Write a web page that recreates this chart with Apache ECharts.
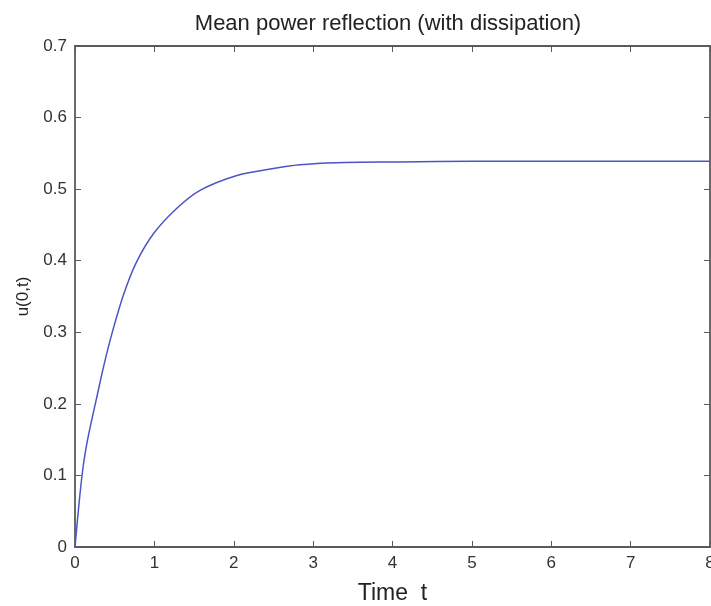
<!DOCTYPE html>
<html>
<head>
<meta charset="utf-8">
<script src="https://cdn.jsdelivr.net/npm/echarts@6/dist/echarts.min.js"></script>
<style>html,body{margin:0;padding:0;background:#fff;}#c{width:711px;height:606px;}</style>
</head>
<body>
<div id="c"></div>
<script>
var titleText = 'Mean power reflection (with dissipation)';
var xName = 'Time  t';
var yName = 'u(0,t)';
var timeT = [0, 0.05, 0.1, 0.15, 0.2, 0.27, 0.36, 0.46, 0.61, 0.77, 0.99, 1.28, 1.57, 2.04, 2.46, 2.83, 3.3, 4.1, 5, 6, 7, 8];
var u0t = [0, 0.06, 0.11, 0.145, 0.172, 0.207, 0.252, 0.296, 0.352, 0.397, 0.438, 0.473, 0.498, 0.519, 0.528, 0.534, 0.537, 0.538, 0.539, 0.539, 0.539, 0.539];

var font = 'Liberation Sans, Arial, sans-serif';
var axisCol = '#5a5a5a';
var chart = echarts.init(document.getElementById('c'), null, {renderer: 'canvas'});
var lineData = timeT.map(function (t, i) { return [t, u0t[i]]; });
chart.setOption({
  animation: false,
  backgroundColor: '#fff',
  title: {
    text: titleText, left: 383, top: 8, textAlign: 'center',
    textStyle: {fontFamily: font, fontSize: 22, fontWeight: 'normal', color: '#222'}
  },
  grid: {left: 75, right: 1, top: 46, bottom: 59, containLabel: false, outerBoundsMode: 'none'},
  xAxis: [{
    type: 'value', min: 0, max: 8, interval: 1, position: 'bottom',
    name: xName, nameLocation: 'middle', nameGap: 35,
    nameTextStyle: {fontFamily: font, fontSize: 23, color: '#222'},
    axisLine: {show: true, onZero: false, lineStyle: {color: axisCol, width: 1.8}},
    axisTick: {show: true, inside: true, length: 6, lineStyle: {color: axisCol}},
    axisLabel: {fontFamily: font, fontSize: 17, color: '#333', margin: 8, showMaxLabel: true},
    splitLine: {show: false}
  }, {
    type: 'value', min: 0, max: 8, interval: 1, position: 'top',
    axisLine: {show: true, onZero: false, lineStyle: {color: axisCol, width: 1.8}},
    axisTick: {show: true, inside: true, length: 6, lineStyle: {color: axisCol}},
    axisLabel: {show: false}, splitLine: {show: false}
  }],
  yAxis: [{
    type: 'value', min: 0, max: 0.7, interval: 0.1, position: 'left',
    name: yName, nameLocation: 'middle', nameGap: 43, nameRotate: 90,
    nameTextStyle: {fontFamily: font, fontSize: 17, color: '#222'},
    axisLine: {show: true, onZero: false, lineStyle: {color: axisCol, width: 1.8}},
    axisTick: {show: true, inside: true, length: 6, lineStyle: {color: axisCol}},
    axisLabel: {fontFamily: font, fontSize: 17, color: '#333', margin: 8,
      formatter: function (v) { return v === 0 ? '0' : v.toFixed(1); }},
    splitLine: {show: false}
  }, {
    type: 'value', min: 0, max: 0.7, interval: 0.1, position: 'right',
    axisLine: {show: true, onZero: false, lineStyle: {color: axisCol, width: 1.8}},
    axisTick: {show: true, inside: true, length: 6, lineStyle: {color: axisCol}},
    axisLabel: {show: false}, splitLine: {show: false}
  }],
  series: [{
    type: 'line', data: lineData, smooth: 0.3, showSymbol: false,
    xAxisIndex: 0, yAxisIndex: 0,
    lineStyle: {color: '#4b55c4', width: 1.5}
  }]
});
</script>
</body>
</html>
